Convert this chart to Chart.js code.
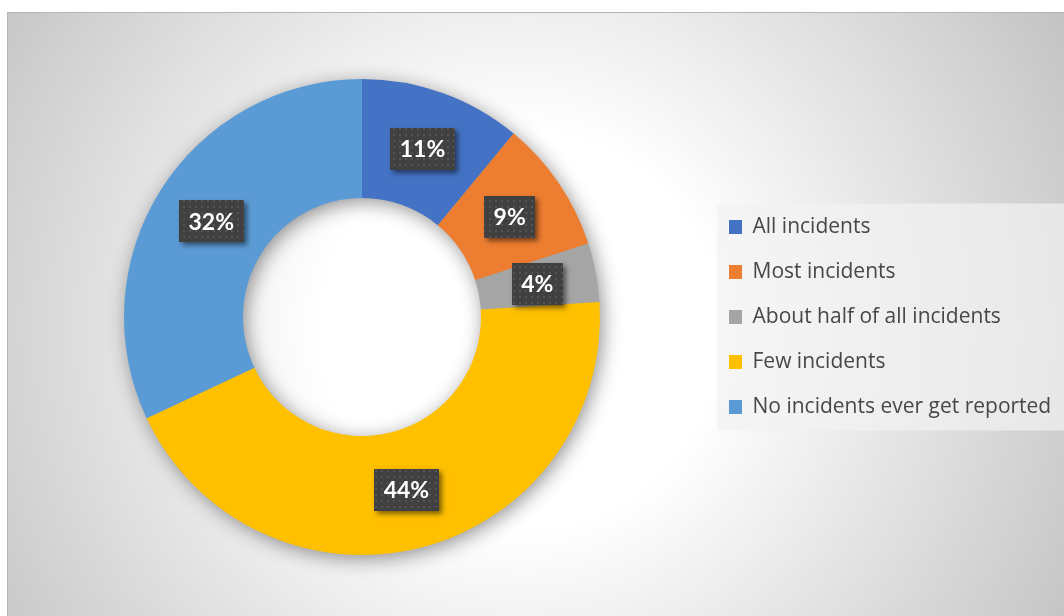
<!DOCTYPE html>
<html>
<head>
<meta charset="utf-8">
<title>Incident reporting</title>
<script src="https://cdn.jsdelivr.net/npm/chart.js@4.4.0/dist/chart.umd.min.js"></script>
<style>
    html, body { margin: 0; padding: 0; background: #ffffff; overflow: hidden; }
    #wrap { position: absolute; left: 7px; top: 12px; }
</style>
</head>
<body>
<div id="wrap"><canvas id="incidentChart" width="1120" height="620"></canvas></div>
<script>
// Share of incidents that get reported
const categories = [
    'All incidents',
    'Most incidents',
    'About half of all incidents',
    'Few incidents',
    'No incidents ever get reported'
];
const shares = [11, 9, 4, 44, 32];
const sliceColors = ['#4472C4', '#ED7D31', '#A5A5A5', '#FFC000', '#5B9BD5'];

const legendFont = { family: 'Open Sans', size: 21 };
const labelFont = 'bold 23px Lato';

// Measure the longest legend entry so the legend lands at a fixed spot
function legendTextWidth() {
    const ctx = document.createElement('canvas').getContext('2d');
    ctx.font = legendFont.size + 'px ' + legendFont.family;
    return Math.max(...categories.map(c => ctx.measureText(c).width));
}

// Dotted fill used behind the percentage labels
function makeDotPattern(ctx) {
    const tile = document.createElement('canvas');
    tile.width = 6;
    tile.height = 6;
    const t = tile.getContext('2d');
    t.fillStyle = '#404040';
    t.fillRect(0, 0, 6, 6);
    t.fillStyle = '#545454';
    t.fillRect(2, 2, 2, 2);
    return ctx.createPattern(tile, 'repeat');
}

// Radial backdrop, frame lines and legend panel
const backdropPlugin = {
    id: 'backdrop',
    beforeDraw(chart) {
        const ctx = chart.ctx;
        const w = chart.width, h = chart.height;
        ctx.save();
        const g = ctx.createRadialGradient(513, 318, 0, 513, 318, 640);
        g.addColorStop(0, '#ffffff');
        g.addColorStop(0.31, '#ffffff');
        g.addColorStop(1, '#c2c2c2');
        ctx.fillStyle = g;
        ctx.fillRect(0, 0, w, h);

        ctx.strokeStyle = '#b4b4b4';
        ctx.lineWidth = 1;
        ctx.beginPath();
        ctx.moveTo(0.5, h);
        ctx.lineTo(0.5, 0.5);
        ctx.lineTo(w, 0.5);
        ctx.stroke();

        const boxes = chart.legend.legendHitBoxes;
        if (boxes && boxes.length) {
            const left = Math.min(...boxes.map(b => b.left)) - 12;
            const right = Math.max(...boxes.map(b => b.left + b.width)) + 13;
            const top = boxes[0].top - 13;
            const bottom = boxes[boxes.length - 1].top + boxes[boxes.length - 1].height + 13;
            ctx.fillStyle = 'rgba(242, 242, 242, 0.7)';
            ctx.fillRect(left, top, right - left, bottom - top);
        }
        ctx.restore();
    }
};

// Soft shadow under the whole ring
const ringShadowPlugin = {
    id: 'ringShadow',
    beforeDatasetsDraw(chart) {
        const arc = chart.getDatasetMeta(0).data[0];
        if (!arc) return;
        const { x, y, innerRadius, outerRadius } = arc.getProps(['x', 'y', 'innerRadius', 'outerRadius'], true);
        const ctx = chart.ctx;
        ctx.save();
        ctx.shadowColor = 'rgba(0, 0, 0, 0.45)';
        ctx.shadowBlur = 20;
        ctx.shadowOffsetX = 3;
        ctx.shadowOffsetY = 4;
        ctx.fillStyle = '#a0a0a0';
        ctx.beginPath();
        ctx.arc(x, y, outerRadius - 1, 0, Math.PI * 2);
        ctx.arc(x, y, innerRadius + 1, 0, Math.PI * 2, true);
        ctx.fill();
        ctx.restore();
    }
};

// Dark boxed percentage on each slice
const sliceLabelPlugin = {
    id: 'sliceLabels',
    afterDatasetsDraw(chart) {
        const ctx = chart.ctx;
        const pattern = makeDotPattern(ctx);
        const meta = chart.getDatasetMeta(0);
        ctx.save();
        ctx.font = labelFont;
        ctx.textAlign = 'center';
        ctx.textBaseline = 'middle';
        meta.data.forEach((arc, i) => {
            const pos = arc.tooltipPosition();
            const text = shares[i] + '%';
            const bw = Math.round(ctx.measureText(text).width + 19);
            const bh = 42;
            const bx = Math.round(pos.x - bw / 2);
            const by = Math.round(pos.y - bh / 2);

            ctx.save();
            ctx.shadowColor = 'rgba(0, 0, 0, 0.5)';
            ctx.shadowBlur = 5;
            ctx.shadowOffsetX = 3;
            ctx.shadowOffsetY = 3;
            ctx.fillStyle = '#404040';
            ctx.fillRect(bx, by, bw, bh);
            ctx.restore();

            ctx.fillStyle = pattern;
            ctx.fillRect(bx, by, bw, bh);

            ctx.fillStyle = '#ffffff';
            ctx.fillText(text, pos.x, pos.y + 1);
        });
        ctx.restore();
    }
};

window.onload = () => {
    const canvas = document.getElementById('incidentChart');
    const legendPad = 24;
    const legendLeft = 698;
    const legendWidth = legendPad + 13 + legendFont.size / 2 + legendTextWidth() + 10;
    const padRight = canvas.width - legendLeft - legendWidth;

    new Chart(canvas.getContext('2d'), {
        type: 'doughnut',
        data: {
            labels: categories,
            datasets: [{
                data: shares,
                backgroundColor: sliceColors,
                borderWidth: 0
            }]
        },
        options: {
            responsive: false,
            animation: false,
            cutout: '50%',
            layout: {
                padding: { left: 12, top: 67, bottom: 77, right: padRight }
            },
            plugins: {
                legend: {
                    position: 'right',
                    labels: {
                        boxWidth: 13,
                        boxHeight: 14,
                        padding: legendPad,
                        color: '#474747',
                        font: legendFont
                    }
                },
                tooltip: { enabled: false }
            },
            events: []
        },
        plugins: [backdropPlugin, ringShadowPlugin, sliceLabelPlugin]
    });
};
</script>
</body>
</html>
